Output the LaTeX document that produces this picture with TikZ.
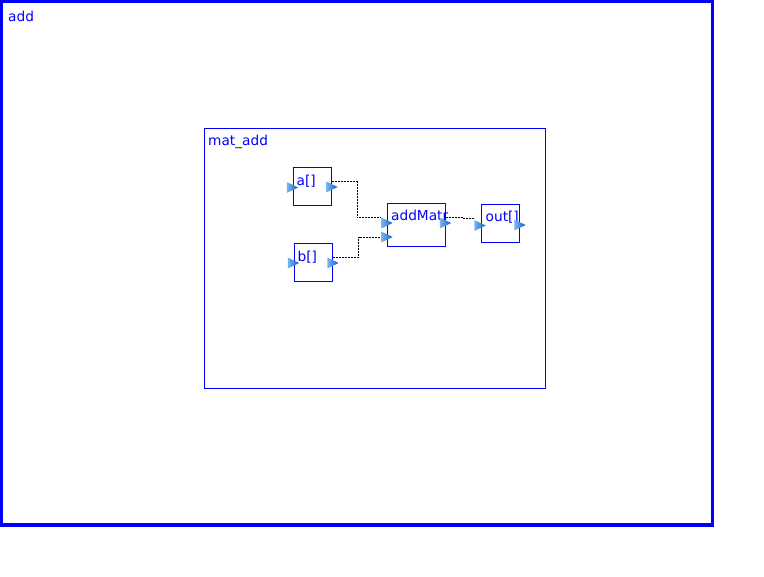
\documentclass[tikz,border=0pt]{standalone}
\usepackage{fontspec}
\setmainfont{DejaVu Sans}
\usetikzlibrary{calc}
\newcommand{\portw}{11pt}
\newcommand{\porth}{10.5pt}
\definecolor{portlight}{RGB}{120,182,240}
\definecolor{portdark}{RGB}{18,92,208}
\pgfdeclarelayer{back}
\pgfsetlayers{back,main}

\begin{document}
\begin{tikzpicture}[x=1pt,y=-1pt,
        blk/.style={draw=blue, line width=1pt, inner sep=0pt},
        port/.style={inner sep=0pt, minimum width=\portw, minimum height=\porth},
        wire/.style={dash pattern=on 2pt off 1pt, line width=.8pt},
        lbl/.style={text=blue, anchor=base west, inner sep=0pt, font=\fontsize{13.7}{16}\selectfont}]
        \useasboundingbox (0,0) rectangle (764,577);

        % containers
        \node (addbox) at (356.9,263.25) [blk, line width=3.3pt, minimum width=710.8pt, minimum height=523.5pt] {};
        \node (matbox) at (375,258.5) [blk, minimum width=341pt, minimum height=260pt] {};

        % blocks
        \node (a) at (312.5,186.5) [blk, minimum width=38pt, minimum height=38pt] {};
        \node (b) at (313.5,262.5) [blk, minimum width=38pt, minimum height=38pt] {};
        \node (m) at (416.5,225) [blk, minimum width=58pt, minimum height=43pt] {};
        \node (o) at (500.5,223.5) [blk, minimum width=38pt, minimum height=38pt] {};

        \node (addlbl) at (8,21.5) [lbl] {add};
        \node (matlbl) at (208,145.5) [lbl] {mat\_add};
        \node (albl) at (296.5,185.5) [lbl] {a[]};
        \node (blbl) at (297.5,261.5) [lbl] {b[]};
        \node (mlbl) at (391,221) [lbl] {addMatr};
        \node (olbl) at (485.5,222) [lbl] {out[]};

        % ports
        \foreach \p/\x/\y in {ain/292.5/187.5, aout/332/187, bin/293.5/263, bout/333/263,
                min1/387/223, min2/387/237, mout/445.5/223, oin/480/225.5, oout/520/225}
                {
                  \node (\p) at (\x,\y) [port] {};
                  \shade[left color=portlight, right color=portdark]
                        (\p.north west) -- (\p.east) -- (\p.south west) -- cycle;
                }

        \begin{pgfonlayer}{back}
        \draw[wire] (aout.north) -- ++(25,0) |- (min1.north west);
        \draw[wire] (bout.north) -- ++(25.5,0) |- (min2.west);
        \draw[wire] (mout.north) -- ++(17.5,0) -- ++(0,1) coordinate (k) -- (k -| oin.west);
        \end{pgfonlayer}
\end{tikzpicture}
\end{document}
